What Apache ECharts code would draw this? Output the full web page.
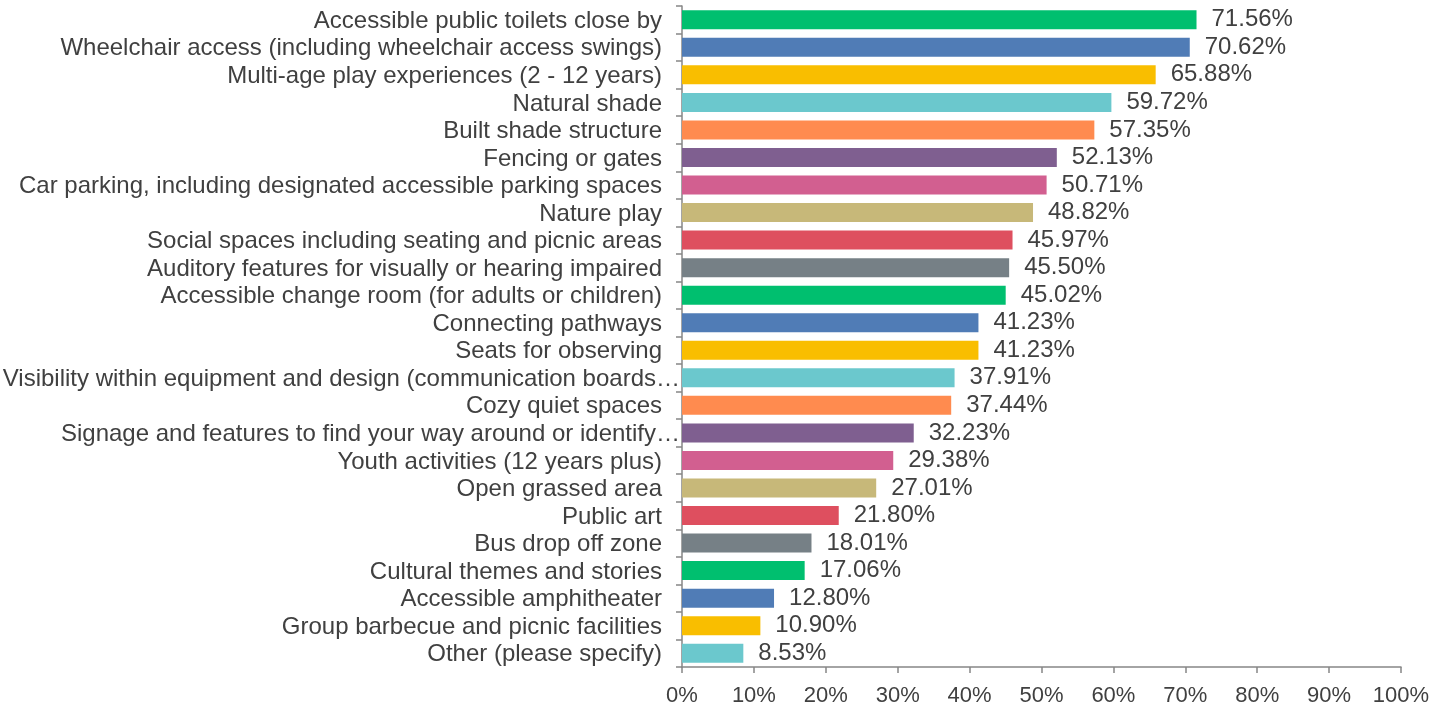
<!DOCTYPE html>
<html>
<head>
<meta charset="utf-8">
<script src="https://cdn.jsdelivr.net/npm/echarts@6/dist/echarts.min.js"></script>
<style>html,body{margin:0;padding:0;background:#fff}#c{width:1441px;height:706px}</style>
</head>
<body>
<div id="c"></div>
<script>
const categories = [
  "Accessible public toilets close by",
  "Wheelchair access (including wheelchair access swings)",
  "Multi-age play experiences (2 - 12 years)",
  "Natural shade",
  "Built shade structure",
  "Fencing or gates",
  "Car parking, including designated accessible parking spaces",
  "Nature play",
  "Social spaces including seating and picnic areas",
  "Auditory features for visually or hearing impaired",
  "Accessible change room (for adults or children)",
  "Connecting pathways",
  "Seats for observing",
  "Visibility within equipment and design (communication boards\u2026",
  "Cozy quiet spaces",
  "Signage and features to find your way around or identify\u2026",
  "Youth activities (12 years plus)",
  "Open grassed area",
  "Public art",
  "Bus drop off zone",
  "Cultural themes and stories",
  "Accessible amphitheater",
  "Group barbecue and picnic facilities",
  "Other (please specify)"
];
const values = [71.56, 70.62, 65.88, 59.72, 57.35, 52.13, 50.71, 48.82, 45.97, 45.50, 45.02, 41.23, 41.23, 37.91, 37.44, 32.23, 29.38, 27.01, 21.80, 18.01, 17.06, 12.80, 10.90, 8.53];
const palette = ["#00BF6F", "#507CB6", "#F9BE00", "#6BC8CD", "#FF8B4F", "#7F5F90", "#D25F90", "#C7B879", "#DE4F5F", "#768086"];
const xTicks = [0, 10, 20, 30, 40, 50, 60, 70, 80, 90, 100];

const chart = echarts.init(document.getElementById('c'), null, {renderer: 'canvas'});
const font = '"Liberation Sans", Arial, sans-serif';
chart.setOption({
  animation: false,
  grid: {left: 682, right: 40, top: 6, bottom: 39, containLabel: false, outerBoundsMode: 'none'},
  xAxis: {
    type: 'value', min: xTicks[0], max: xTicks[xTicks.length - 1], interval: 10,
    axisLine: {show: true, lineStyle: {color: '#868686', width: 1.5}},
    axisTick: {show: true, length: 6, lineStyle: {color: '#868686', width: 1.5}},
    splitLine: {show: false},
    axisLabel: {color: '#404040', fontFamily: font, fontSize: 22, margin: 18, formatter: v => v + '%'}
  },
  yAxis: {
    type: 'category', data: categories, inverse: true,
    axisLine: {show: true, lineStyle: {color: '#868686', width: 1.5}},
    axisTick: {show: true, length: 6, lineStyle: {color: '#868686', width: 1.5}},
    axisLabel: {
      color: '#404040', fontFamily: font, fontSize: 24, margin: 2, interval: 0,
      formatter: v => v.endsWith('\u2026') ? '{t|' + v + '}' : '{n|' + v + '}',
      rich: {
        n: {fontFamily: font, fontSize: 24, color: '#404040', padding: [3, 18, 0, 0]},
        t: {fontFamily: font, fontSize: 24, color: '#404040', padding: [3, 0, 0, 0]}
      }
    }
  },
  series: [{
    type: 'bar',
    data: values.map((v, i) => ({value: v, itemStyle: {color: palette[i % palette.length]}})),
    barCategoryGap: '31%',
    label: {show: true, position: 'right', distance: 15, color: '#404040', fontFamily: font, fontSize: 24,
      padding: [3, 0, 0, 0],
      formatter: p => p.value.toFixed(2) + '%'}
  }]
});
</script>
</body>
</html>
